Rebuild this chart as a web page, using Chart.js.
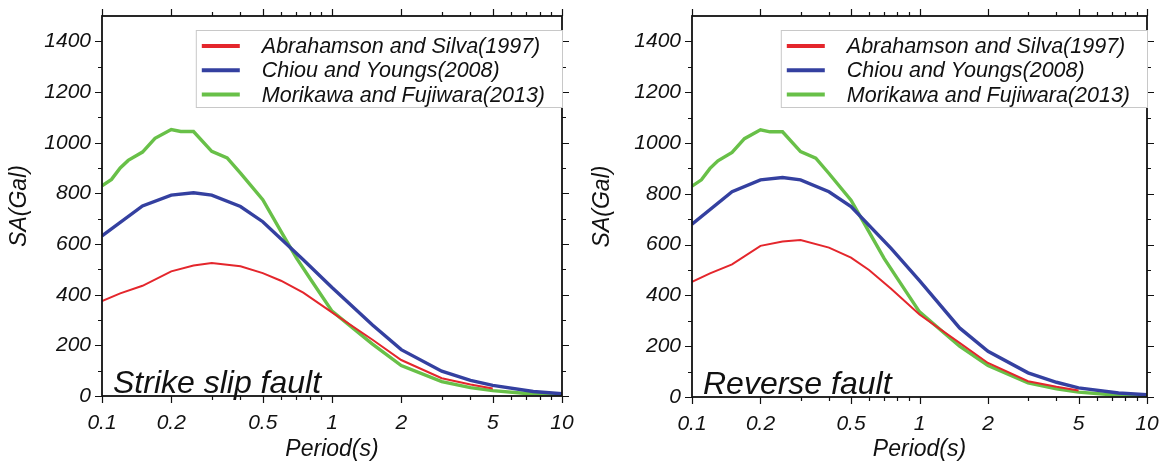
<!DOCTYPE html>
<html>
<head>
<meta charset="utf-8">
<script src="https://cdn.jsdelivr.net/npm/chart.js@4.4.1/dist/chart.umd.min.js"></script>
<style>
  body { margin: 0; background: #fff; }
  .panel { position: absolute; top: 0; width: 583px; height: 463px; }
</style>
</head>
<body>
<div class="panel" style="left:0"><canvas id="strike" width="583" height="463"></canvas></div>
<div class="panel" style="left:583px"><canvas id="reverse" width="583" height="463"></canvas></div>
<script>
// periods (s) for each model
var asPeriods = [0.1, 0.12, 0.15, 0.2, 0.25, 0.3, 0.4, 0.5, 0.6, 0.75, 1, 1.5, 2, 3, 4, 5]
var cyPeriods = [0.1, 0.15, 0.2, 0.25, 0.3, 0.4, 0.5, 0.75, 1, 1.5, 2, 3, 4, 5, 7.5, 10]
var mfPeriods = [0.1, 0.11, 0.12, 0.13, 0.15, 0.17, 0.2, 0.22, 0.25, 0.3, 0.35, 0.4, 0.5, 0.6, 0.7, 0.8, 1, 1.5, 2, 3, 4, 5, 7, 10]

// SA (Gal), strike slip fault
var asStrike = [375, 405, 435, 492, 515, 525, 512, 485, 455, 408, 330, 222, 142, 70, 45, 30]
var cyStrike = [632, 750, 793, 802, 793, 748, 688, 538, 428, 280, 183, 98, 62, 42, 18, 9]
var mfStrike = [830, 855, 900, 930, 963, 1017, 1052, 1044, 1044, 966, 940, 880, 775, 650, 545, 466, 335, 205, 120, 57, 33, 21, 10, 6]

// SA (Gal), reverse fault
var asReverse = [453, 487, 522, 595, 612, 618, 588, 549, 500, 426, 325, 213, 134, 62, 40, 26]
var cyReverse = [680, 808, 855, 864, 855, 808, 750, 585, 458, 272, 180, 95, 58, 36, 16, 9]
var mfReverse = [830, 855, 900, 930, 963, 1017, 1052, 1044, 1044, 966, 940, 880, 775, 650, 545, 466, 335, 200, 124, 56, 32, 19, 9, 6]

var modelNames = ['Abrahamson and Silva(1997)', 'Chiou and Youngs(2008)', 'Morikawa and Fujiwara(2013)']
var modelColors = ['rgb(228, 38, 44)', 'rgb(52, 64, 160)', 'rgb(104, 192, 72)']
var modelWidths = [2, 3.4, 3.4]

var xLabels = [0.1, 0.2, 0.5, 1, 2, 5, 10]
var xMinor = [0.3, 0.4, 0.6, 0.7, 0.8, 0.9, 3, 4, 6, 7, 8, 9]
var yLabels = [0, 200, 400, 600, 800, 1000, 1200, 1400]
var yMinor = [100, 300, 500, 700, 900, 1100, 1300]

var FONT = '"Liberation Sans", Arial, sans-serif'

function pts(xs, ys){
	return xs.map(function(x, i){ return {x: x, y: ys[i]} })
}

function noOverflow(s){
	s.paddingTop = 0; s.paddingBottom = 0
	s.paddingLeft = 0; s.paddingRight = 0
}

// box, ticks on all four sides, label and legend
var framePlugin = {
	id: 'framePlugin',
	afterDraw: function(chart){
		var ctx = chart.ctx
		var a = chart.chartArea
		var xs = chart.scales.x, ys = chart.scales.y
		var o = chart.options.plugins.framePlugin
		ctx.save()
		ctx.strokeStyle = '#111'
		ctx.lineWidth = 1.2
		ctx.beginPath()
		function xt(v, len){
			var p = Math.round(xs.getPixelForValue(v)) + 0.5
			ctx.moveTo(p, a.bottom); ctx.lineTo(p, a.bottom + len)
			ctx.moveTo(p, a.top); ctx.lineTo(p, a.top - len)
		}
		function yt(v, len){
			var p = Math.round(ys.getPixelForValue(v)) + 0.5
			ctx.moveTo(a.left, p); ctx.lineTo(a.left - len, p)
			ctx.moveTo(a.right, p); ctx.lineTo(a.right + len, p)
		}
		xLabels.forEach(function(v){ xt(v, 7) })
		xMinor.forEach(function(v){ xt(v, 4) })
		yLabels.forEach(function(v){ yt(v, 7) })
		yMinor.forEach(function(v){ yt(v, 4) })
		ctx.stroke()
		ctx.lineWidth = 1.8
		ctx.strokeRect(a.left, a.top, a.right - a.left, a.bottom - a.top)

		// legend
		ctx.font = 'italic 21.5px ' + FONT
		var tw = 0
		chart.data.datasets.forEach(function(d){ tw = Math.max(tw, ctx.measureText(d.label).width) })
		var bw = 66 + tw + 17
		var bx = a.right - bw, by = a.top + 14
		ctx.fillStyle = '#fff'
		ctx.fillRect(bx, by, bw, 77)
		ctx.strokeStyle = '#c8c8c8'
		ctx.lineWidth = 1
		ctx.strokeRect(bx + 0.5, by + 0.5, bw, 77)
		ctx.textBaseline = 'middle'
		chart.data.datasets.forEach(function(d, i){
			var cy = by + 16 + i * 24.3
			ctx.strokeStyle = d.borderColor
			ctx.lineWidth = 4
			ctx.beginPath()
			ctx.moveTo(bx + 6, cy); ctx.lineTo(bx + 44, cy)
			ctx.stroke()
			ctx.fillStyle = '#111'
			ctx.fillText(d.label, bx + 66, cy + 1)
		})

		// panel label
		ctx.font = 'italic 32px ' + FONT
		ctx.textBaseline = 'alphabetic'
		ctx.fillStyle = '#111'
		ctx.fillText(o.label, a.left + 11, a.bottom - 3)
		ctx.restore()
	}
}

function drawPanel(id, series, label, leftW, rightPad, plotH){
	var ctx = document.getElementById(id).getContext('2d')
	var periods = [asPeriods, cyPeriods, mfPeriods]
	return new Chart(ctx, {
		type: 'line',
		data: {
			datasets: series.map(function(s, i){
				return {
					label: modelNames[i],
					data: pts(periods[i], s),
					borderColor: modelColors[i],
					backgroundColor: modelColors[i],
					borderWidth: modelWidths[i],
					pointRadius: 0,
					tension: 0,
					fill: false
				}
			})
		},
		options: {
			responsive: false,
			animation: false,
			events: [],
			layout: { padding: { top: 16, right: rightPad, left: 0, bottom: 0 } },
			plugins: {
				legend: { display: false },
				tooltip: { enabled: false },
				framePlugin: { label: label }
			},
			scales: {
				x: {
					type: 'logarithmic',
					min: 0.1, max: 10,
					afterBuildTicks: function(s){ s.ticks = xLabels.map(function(v){ return {value: v} }) },
					afterFit: function(s){ s.height = 463 - 16 - plotH; noOverflow(s) },
					grid: { display: false, drawTicks: false },
					border: { display: false },
					ticks: {
						autoSkip: false, maxRotation: 0, padding: 15,
						color: '#111',
						font: { family: FONT, size: 21, style: 'italic' },
						callback: function(v){ return String(v) }
					},
					title: {
						display: true, text: 'Period(s)', color: '#111',
						font: { family: FONT, size: 23, style: 'italic' },
						padding: { top: 0, bottom: 0 }
					}
				},
				y: {
					min: 0, max: 1500,
					afterBuildTicks: function(s){ s.ticks = yLabels.map(function(v){ return {value: v} }) },
					afterFit: function(s){ s.width = leftW; noOverflow(s) },
					grid: { display: false, drawTicks: false },
					border: { display: false },
					ticks: {
						padding: 11, color: '#111',
						font: { family: FONT, size: 21, style: 'italic' },
						callback: function(v){ return String(v) }
					},
					title: {
						display: true, text: 'SA(Gal)', color: '#111',
						font: { family: FONT, size: 23, style: 'italic' },
						padding: { top: 6, bottom: 0 }
					}
				}
			}
		},
		plugins: [framePlugin]
	})
}

drawPanel('strike', [asStrike, cyStrike, mfStrike], 'Strike slip fault', 102, 21, 380)
drawPanel('reverse', [asReverse, cyReverse, mfReverse], 'Reverse fault', 109, 19, 381)
</script>
</body>
</html>
